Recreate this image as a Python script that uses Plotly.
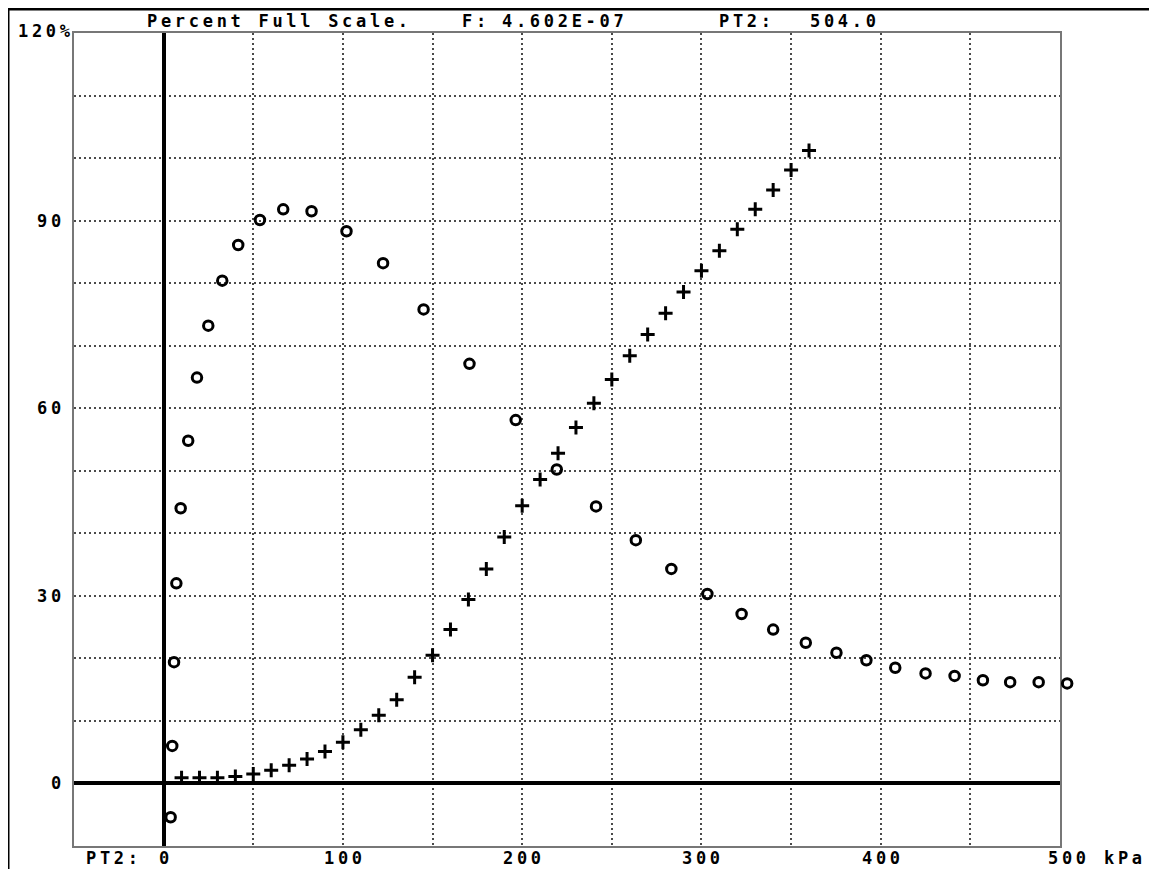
import plotly.graph_objects as go

# open circles ("o" series)
circle_x = [3.9, 4.8, 5.8, 7.1, 9.5, 13.7, 18.6, 24.9, 32.7, 41.6, 53.7, 66.7,
            82.5, 102.0, 122.4, 145.0, 170.6, 196.4, 219.3, 241.2, 263.4, 283.2,
            303.3, 322.4, 340.0, 358.2, 375.3, 392.0, 408.1, 425.0, 441.2, 457.0,
            472.2, 488.1, 504.0]
circle_y = [-5.4, 6.0, 19.4, 32.0, 44.0, 54.8, 64.9, 73.2, 80.4, 86.1, 90.1, 91.8,
            91.5, 88.3, 83.2, 75.8, 67.1, 58.1, 50.2, 44.3, 38.9, 34.3,
            30.3, 27.1, 24.6, 22.5, 20.9, 19.7, 18.5, 17.6, 17.2, 16.5,
            16.2, 16.2, 16.0]

# crosses ("+" series)
cross_x = [10, 20, 30, 40, 50, 60, 70, 80, 90, 100, 110, 120, 130, 140, 150, 160,
           170, 180, 190, 200, 210, 220, 230, 240, 250, 260, 270, 280, 290, 300,
           310, 320, 330, 340, 350, 360]
cross_y = [0.9, 0.9, 0.9, 1.1, 1.5, 2.1, 2.9, 3.9, 5.1, 6.6, 8.6, 10.9, 13.4, 17.0,
           20.5, 24.6, 29.4, 34.3, 39.4, 44.4, 48.6, 52.8, 56.9, 60.8, 64.6, 68.4,
           71.8, 75.2, 78.6, 82.0, 85.2, 88.6, 91.8, 94.9, 98.1, 101.2]

x_ticks = [0, 100, 200, 300, 400, 500]
x_labels = ["0", "100", "200", "300", "400", "500"]
y_ticks = [0, 30, 60, 90]
y_labels = ["0", "30", "60", "90"]

X_RANGE = [-50, 500]
Y_RANGE = [-10, 120]

FONT = "DejaVu Sans Mono"

# page body has an 8px margin, so the figure is laid out in page pixels minus 8
PLOT_L, PLOT_R, PLOT_T, PLOT_B = 74, 1060, 33, 846   # frame in page pixels
EXTRA_R = 1090                                        # room for the 504 kPa point
FIG_W, FIG_H = 1141, 861


def px(p):
    return (p - PLOT_L) / (EXTRA_R - PLOT_L)


def py(p):
    return (PLOT_B - p) / (PLOT_B - PLOT_T)


def txt(s):
    return '<span style="letter-spacing:3.7px">' + s + '</span>'


main_frac = (PLOT_R - PLOT_L) / (EXTRA_R - PLOT_L)
kpa_per_px = (X_RANGE[1] - X_RANGE[0]) / (PLOT_R - PLOT_L)

inside = [(x, y) for x, y in zip(circle_x, circle_y) if x <= X_RANGE[1]]
outside = [(x, y) for x, y in zip(circle_x, circle_y) if x > X_RANGE[1]]

circle_marker = dict(symbol="circle-open", size=9.5, color="black",
                     line=dict(width=3, color="black"))

fig = go.Figure()
fig.add_trace(go.Scatter(
    x=[p[0] for p in inside], y=[p[1] for p in inside], mode="markers",
    cliponaxis=False, marker=circle_marker))
fig.add_trace(go.Scatter(
    x=[p[0] for p in outside], y=[p[1] for p in outside], mode="markers",
    cliponaxis=False, marker=circle_marker, xaxis="x2", yaxis="y2"))
fig.add_trace(go.Scatter(
    x=cross_x, y=cross_y, mode="markers", cliponaxis=False,
    marker=dict(symbol="cross-thin-open", size=10, color="black",
                line=dict(width=3, color="black"))))

font = dict(family=FONT, size=17, color="black", weight="bold")
ann = []

# header line
for s, p in [("Percent Full Scale.", 145), ("F:", 460), ("4.602E-07", 500),
             ("PT2:", 717), ("504.0", 808)]:
    ann.append(dict(text=txt(s), x=px(p), y=py(21), xref="paper", yref="paper",
                    xanchor="left", yanchor="middle", showarrow=False, font=font))

# y labels
for v, lab in zip(y_ticks, y_labels):
    ann.append(dict(text=txt(lab), x=px(67), y=v, xref="paper", yref="y",
                    xanchor="right", yanchor="middle", showarrow=False, font=font))
ann.append(dict(text=txt("120%"), x=px(76), y=Y_RANGE[1], yshift=2, xref="paper",
                yref="y", xanchor="right", yanchor="middle", showarrow=False, font=font))

# x labels
for v, lab in zip(x_ticks, x_labels):
    ann.append(dict(text=txt(lab), x=v, xshift=2 + (7 if v == X_RANGE[1] else 0),
                    y=py(858), xref="x", yref="paper",
                    xanchor="center", yanchor="middle", showarrow=False, font=font))
ann.append(dict(text=txt("PT2:"), x=px(84), y=py(858), xref="paper", yref="paper",
                xanchor="left", yanchor="middle", showarrow=False, font=font))
ann.append(dict(text=txt("kPa"), x=px(1102), y=py(858), xref="paper", yref="paper",
                xanchor="left", yanchor="middle", showarrow=False, font=font))

# outer window border (top and left)
shapes = [
    dict(type="line", xref="paper", yref="paper", x0=px(0), x1=px(1160),
         y0=py(9), y1=py(9), line=dict(color="black", width=3)),
    dict(type="line", xref="paper", yref="paper", x0=px(8), x1=px(8),
         y0=py(9), y1=py(880), line=dict(color="black", width=3)),
]

grid = dict(showgrid=True, gridcolor="#4a4a4a", gridwidth=1.6, griddash="2px,3px",
            zeroline=True, zerolinecolor="black", zerolinewidth=4,
            showline=True, linecolor="#777777", linewidth=2, mirror=True,
            ticks="", showticklabels=False)
hidden = dict(showgrid=False, zeroline=False, showline=False, ticks="",
              showticklabels=False)

fig.update_layout(
    width=FIG_W, height=FIG_H,
    margin=dict(l=PLOT_L - 8, r=FIG_W + 8 - EXTRA_R, t=PLOT_T - 8,
                b=FIG_H + 8 - PLOT_B),
    paper_bgcolor="white", plot_bgcolor="rgba(0,0,0,0)",
    showlegend=False,
    xaxis=dict(range=X_RANGE, dtick=50, tick0=0, domain=[0, main_frac], **grid),
    yaxis=dict(range=Y_RANGE, dtick=10, tick0=0, **grid),
    xaxis2=dict(range=[X_RANGE[1], X_RANGE[1] + kpa_per_px * (EXTRA_R - PLOT_R)],
                domain=[main_frac, 1], anchor="y2", **hidden),
    yaxis2=dict(range=Y_RANGE, anchor="x2", **hidden),
    annotations=ann, shapes=shapes,
)

fig.write_html("out.html")
